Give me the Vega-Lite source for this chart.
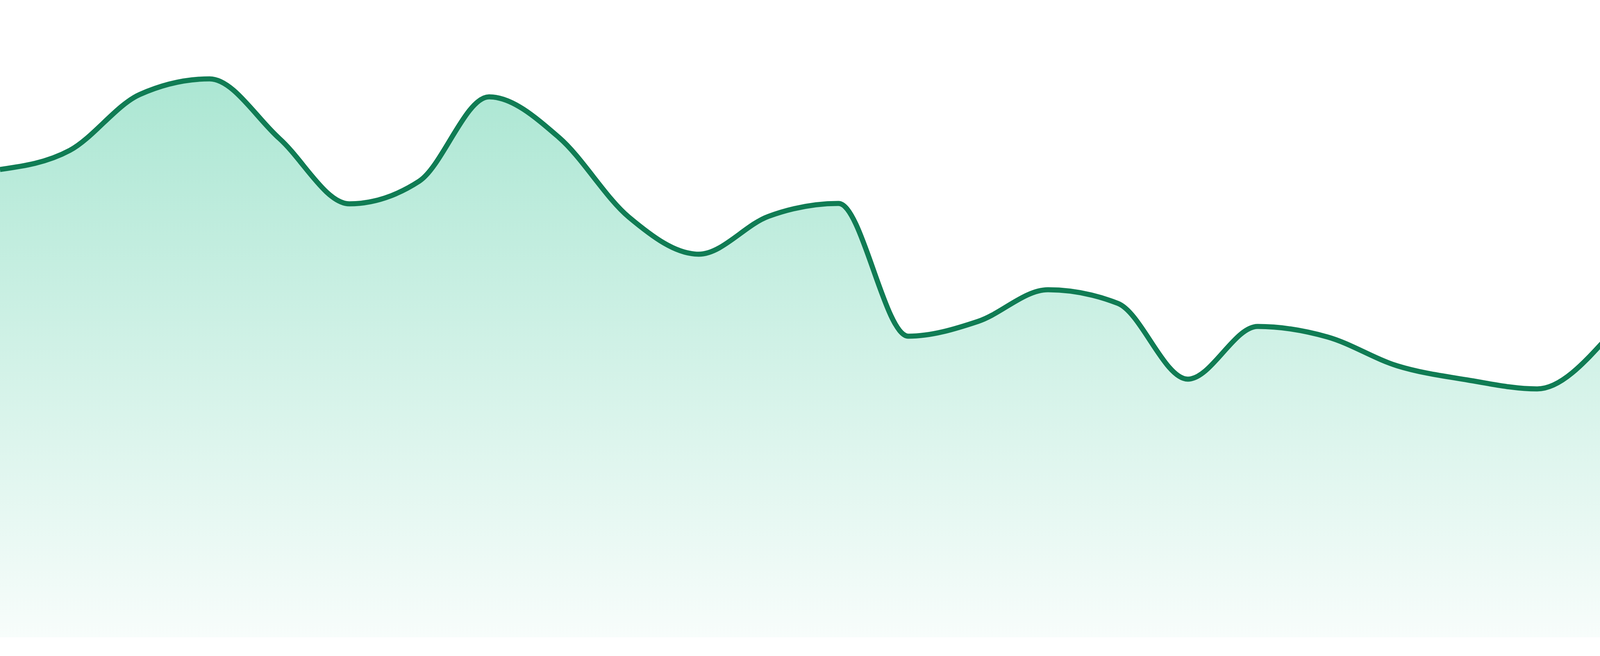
{
  "$schema": "https://vega.github.io/schema/vega-lite/v6.json",
  "width": 4114,
  "height": 1632,
  "autosize": {"type": "none"},
  "padding": {"left": 0, "right": 0, "top": 0, "bottom": 48},
  "background": "white",
  "config": {"view": {"stroke": null}},
  "data": {
    "values": [
      {"i": 0, "v": 1198},
      {"i": 1, "v": 1247},
      {"i": 2, "v": 1390},
      {"i": 3, "v": 1430},
      {"i": 4, "v": 1277},
      {"i": 5, "v": 1110},
      {"i": 6, "v": 1168},
      {"i": 7, "v": 1384},
      {"i": 8, "v": 1280},
      {"i": 9, "v": 1076},
      {"i": 10, "v": 981},
      {"i": 11, "v": 1078},
      {"i": 12, "v": 1111},
      {"i": 13, "v": 771},
      {"i": 14, "v": 809},
      {"i": 15, "v": 890},
      {"i": 16, "v": 855},
      {"i": 17, "v": 661},
      {"i": 18, "v": 796},
      {"i": 19, "v": 769},
      {"i": 20, "v": 695},
      {"i": 21, "v": 659},
      {"i": 22, "v": 636},
      {"i": 23, "v": 767}
    ]
  },
  "encoding": {
    "x": {"field": "i", "type": "quantitative", "scale": {"domain": [0, 23], "nice": false, "zero": false}, "axis": null},
    "y": {"field": "v", "type": "quantitative", "scale": {"domain": [0, 1632], "nice": false}, "axis": null}
  },
  "layer": [
    {
      "mark": {
        "type": "area",
        "interpolate": "monotone",
        "color": {
          "gradient": "linear",
          "x1": 0, "y1": 0, "x2": 0, "y2": 1,
          "stops": [
            {"offset": 0, "color": "rgba(16,185,129,0.35)"},
            {"offset": 1, "color": "rgba(16,185,129,0.03)"}
          ]
        }
      }
    },
    {
      "mark": {"type": "line", "interpolate": "monotone", "color": "#107c54", "strokeWidth": 13, "strokeCap": "butt"}
    }
  ]
}
